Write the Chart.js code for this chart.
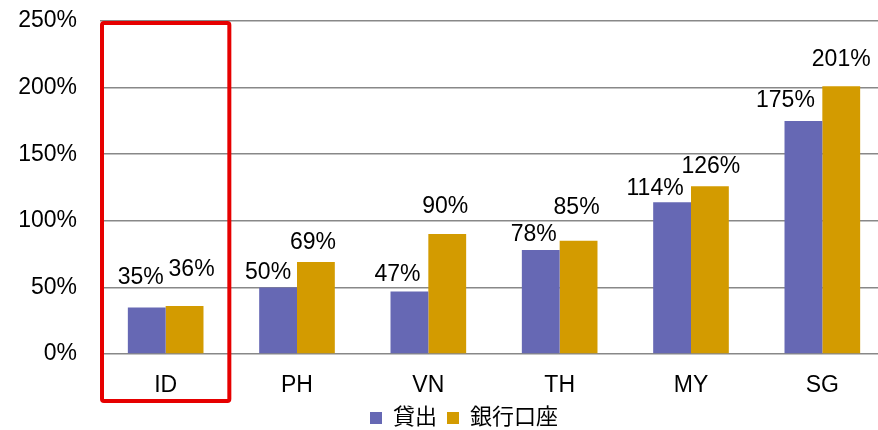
<!DOCTYPE html>
<html>
<head>
<meta charset="utf-8">
<script src="https://cdn.jsdelivr.net/npm/chart.js@4.4.1/dist/chart.umd.min.js"></script>
<style>
    html, body { margin: 0; padding: 0; background: #fff; overflow: hidden; }
    #wrap { width: 900px; height: 440px; }
</style>
</head>
<body>
<div id="wrap"><canvas id="chart"></canvas></div>
<script>
const categories = ["ID", "PH", "VN", "TH", "MY", "SG"];
const loans = [35, 50, 47, 78, 114, 175];
const bankAccounts = [36, 69, 90, 85, 126, 201];
const seriesNames = ["貸出", "銀行口座"];
const yTicks = [0, 50, 100, 150, 200, 250];

// label nudges (dx, rise above bar top) to follow the hand-placed labels
const labelNudge = [
    { dx: [-6, -10, -12, -7, -17, -18], rise: [30, 15, 17, 15, 13, 20] },
    { dx: [7, -3, -2, -2, 1, 0], rise: [36, 19, 27, 33, 20, 27] }
];

const FONT = "'Liberation Sans', Arial, 'Noto Sans CJK JP', sans-serif";

const valueLabels = {
    id: 'valueLabels',
    afterDatasetsDraw(chart) {
        const ctx = chart.ctx;
        ctx.save();
        ctx.font = "23px " + FONT;
        ctx.fillStyle = "#000";
        ctx.textAlign = "center";
        ctx.textBaseline = "middle";
        chart.data.datasets.forEach((ds, di) => {
            chart.getDatasetMeta(di).data.forEach((bar, i) => {
                const n = labelNudge[di];
                ctx.fillText(ds.data[i] + "%", bar.x + n.dx[i], bar.y - n.rise[i]);
            });
        });
        ctx.restore();
    }
};

const highlightBox = {
    id: 'highlightBox',
    afterDraw(chart) {
        const x = chart.scales.x;
        const y = chart.scales.y;
        const half = (x.getPixelForValue(1) - x.getPixelForValue(0)) / 2;
        const left = x.getPixelForValue(0) - half + 2;
        const right = x.getPixelForValue(0) + half - 2;
        const top = y.getPixelForValue(250) + 2;
        const bottom = chart.chartArea.bottom + 47;
        const ctx = chart.ctx;
        ctx.save();
        ctx.strokeStyle = "#e60000";
        ctx.lineWidth = 4;
        ctx.lineJoin = "round";
        ctx.beginPath();
        ctx.roundRect(left, top, right - left, bottom - top, 2);
        ctx.stroke();
        ctx.restore();
    }
};

// legend sits a bit right of the canvas centre in the original
const shiftLegend = {
    id: 'shiftLegend',
    afterLayout(chart) {
        chart.legend.left += 20;
        chart.legend.right += 20;
    }
};

new Chart("chart", {
    type: "bar",
    data: {
        labels: categories,
        datasets: [{
            label: seriesNames[0],
            data: loans,
            backgroundColor: "#6668b4",
            categoryPercentage: 0.576,
            barPercentage: 1
        }, {
            label: seriesNames[1],
            data: bankAccounts,
            backgroundColor: "#d39b00",
            categoryPercentage: 0.576,
            barPercentage: 1
        }]
    },
    options: {
        responsive: true,
        maintainAspectRatio: false,
        animation: false,
        layout: {
            padding: { top: 21, left: 0, right: 12, bottom: 1 }
        },
        scales: {
            x: {
                grid: { display: false },
                border: { display: false },
                ticks: {
                    color: "#000",
                    padding: 10,
                    font: { family: FONT, size: 23 }
                },
                afterFit(scale) { scale.height = 43; }
            },
            y: {
                min: 0,
                max: 250,
                afterBuildTicks(scale) {
                    scale.ticks = yTicks.map(v => ({ value: v }));
                },
                grid: { color: "#888888", lineWidth: 1.5, drawTicks: false },
                border: { display: false },
                ticks: {
                    color: "#000",
                    padding: 23,
                    font: { family: FONT, size: 23 },
                    callback: v => v + "%"
                },
                afterFit(scale) {
                    scale.width = 100;
                    scale.paddingTop = 0;
                    scale.paddingBottom = 0;
                }
            }
        },
        plugins: {
            legend: {
                position: "bottom",
                labels: {
                    color: "#000",
                    boxWidth: 12,
                    boxHeight: 12,
                    padding: 10,
                    font: { family: FONT, size: 22 }
                }
            },
            tooltip: { enabled: false }
        }
    },
    plugins: [valueLabels, highlightBox, shiftLegend]
});
</script>
</body>
</html>
